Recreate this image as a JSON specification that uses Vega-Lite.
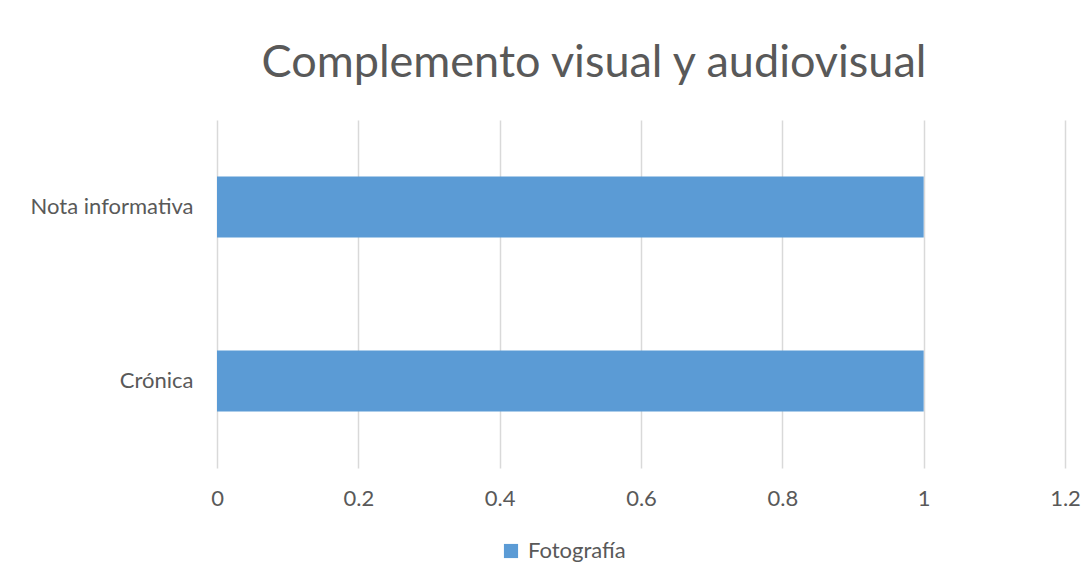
{
  "$schema": "https://vega.github.io/schema/vega-lite/v6.json",
  "autosize": "none",
  "width": 848,
  "height": 348,
  "padding": {"left": 217, "top": 120, "right": 27, "bottom": 118},
  "background": "white",
  "title": {
    "text": "Complemento visual y audiovisual",
    "font": "Lato",
    "fontSize": 45,
    "fontWeight": "normal",
    "color": "#595959",
    "anchor": "middle",
    "frame": "group",
    "dx": -47,
    "offset": 34
  },
  "data": {
    "values": [
      {"tipo": "Nota informativa", "serie": "Fotografía", "valor": 1},
      {"tipo": "Crónica", "serie": "Fotografía", "valor": 1}
    ]
  },
  "mark": {"type": "bar", "color": "#5B9BD5"},
  "encoding": {
    "y": {
      "field": "tipo",
      "type": "nominal",
      "sort": ["Nota informativa", "Crónica"],
      "scale": {"paddingInner": 0.65, "paddingOuter": 0.325},
      "axis": {
        "title": null,
        "domain": false,
        "ticks": false,
        "labelFont": "Lato",
        "labelFontSize": 22,
        "labelColor": "#595959",
        "labelPadding": 24
      }
    },
    "x": {
      "field": "valor",
      "type": "quantitative",
      "scale": {"domain": [0, 1.2]},
      "axis": {
        "title": null,
        "values": [0, 0.2, 0.4, 0.6, 0.8, 1, 1.2],
        "format": "~g",
        "domain": false,
        "ticks": false,
        "grid": true,
        "gridColor": "#D9D9D9",
        "gridWidth": 1.5,
        "labelFont": "Lato",
        "labelFontSize": 22,
        "labelColor": "#595959",
        "labelPadding": 20,
        "labelFlush": false
      }
    },
    "color": {
      "field": "serie",
      "type": "nominal",
      "scale": {"range": ["#5B9BD5"]},
      "legend": {
        "title": null,
        "orient": "none",
        "legendX": 283,
        "legendY": 420,
        "symbolType": "square",
        "symbolSize": 200,
        "symbolStrokeWidth": 0,
        "labelFont": "Lato",
        "labelFontSize": 22,
        "labelColor": "#595959",
        "labelOffset": 6
      }
    }
  },
  "config": {
    "view": {"stroke": null}
  }
}
